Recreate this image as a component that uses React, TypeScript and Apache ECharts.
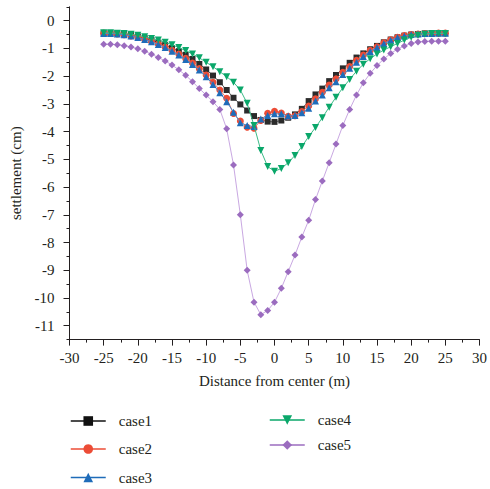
import React, { useEffect, useRef } from "react";
import * as echarts from "echarts";

const xValues = [
  -25, -24, -23, -22, -21, -20, -19, -18, -17, -16, -15, -14, -13, -12, -11, -10, -9, -8, -7, -6, -5, -4, -3, -2, -1,
  0, 1, 2, 3, 4, 5, 6, 7, 8, 9, 10, 11, 12, 13, 14, 15, 16, 17, 18, 19, 20, 21, 22, 23, 24, 25,
];

const case1 = [
  -0.45, -0.45, -0.46, -0.48, -0.52, -0.57, -0.63, -0.7, -0.79, -0.88, -0.99, -1.1, -1.23, -1.38, -1.56, -1.76, -1.98,
  -2.22, -2.5, -2.78, -3.02, -3.24, -3.44, -3.58, -3.64, -3.65, -3.6, -3.5, -3.38, -3.18, -2.9, -2.66, -2.45, -2.18,
  -1.96, -1.72, -1.52, -1.33, -1.18, -1.03, -0.91, -0.78, -0.68, -0.6, -0.54, -0.5, -0.48, -0.46, -0.46, -0.45, -0.45,
];

const case2 = [
  -0.45, -0.46, -0.48, -0.51, -0.55, -0.6, -0.67, -0.75, -0.84, -0.95, -1.07, -1.2, -1.36, -1.53, -1.73, -1.96, -2.22,
  -2.5, -2.8, -3.35, -3.62, -3.84, -3.88, -3.6, -3.34, -3.27, -3.33, -3.45, -3.43, -3.28, -3.08, -2.82, -2.58, -2.32,
  -2.1, -1.86, -1.65, -1.43, -1.24, -1.07, -0.94, -0.8, -0.69, -0.6, -0.54, -0.5, -0.48, -0.46, -0.46, -0.45, -0.45,
];

const case3 = [
  -0.46, -0.46, -0.48, -0.51, -0.55, -0.61, -0.68, -0.76, -0.86, -0.97, -1.1, -1.24, -1.4, -1.58, -1.78, -2.02, -2.3,
  -2.6, -2.92, -3.3, -3.68, -3.78, -3.82, -3.55, -3.42, -3.36, -3.36, -3.44, -3.42, -3.32, -3.16, -2.9, -2.68, -2.42,
  -2.2, -1.94, -1.72, -1.5, -1.29, -1.11, -0.97, -0.83, -0.71, -0.61, -0.55, -0.5, -0.48, -0.46, -0.46, -0.45, -0.45,
];

const case4 = [
  -0.44, -0.44, -0.45, -0.46, -0.49, -0.53, -0.58, -0.64, -0.7, -0.78, -0.87, -0.97, -1.08, -1.2, -1.34, -1.5, -1.66,
  -1.84, -2.02, -2.22, -2.5, -2.98, -3.78, -4.68, -5.26, -5.43, -5.33, -5.12, -4.86, -4.54, -4.18, -3.85, -3.5, -3.12,
  -2.76, -2.42, -2.12, -1.82, -1.57, -1.37, -1.2, -1.06, -0.94, -0.82, -0.7, -0.6, -0.53, -0.49, -0.46, -0.46, -0.46,
];

const case5 = [
  -0.85, -0.85, -0.87, -0.9, -0.95, -1.01, -1.1, -1.21, -1.33, -1.45, -1.6, -1.77, -1.97, -2.2, -2.45, -2.68, -2.92,
  -3.2, -3.9, -5.2, -7.0, -9.0, -10.15, -10.6, -10.45, -10.15, -9.65, -9.05, -8.45, -7.8, -7.2, -6.45, -5.78, -5.12,
  -4.45, -3.78, -3.2, -2.68, -2.24, -1.9, -1.62, -1.38, -1.18, -1.03, -0.91, -0.82, -0.77, -0.75, -0.74, -0.74, -0.74,
];

const seriesNames = ["case1", "case2", "case3", "case4", "case5"];
const seriesValues = [case1, case2, case3, case4, case5];
const markerColors = ["#2b2b2b", "#ec4c36", "#1f6cb9", "#0aa76a", "#9b6cbf"];
const lineColors = ["#555555", "#f07a68", "#4a8ccc", "#3dbb88", "#c9a8e2"];
const legendLineColors = ["#111111", "#ec4c36", "#1f6cb9", "#0aa76a", "#9b6cbf"];
const symbols = ["rect", "circle", "triangle", "triangle", "diamond"];
const symbolRotates = [0, 0, 0, 180, 0];
const symbolSizes = [6, 7, 7, 7, 7];

const xAxisMin = -30;
const xAxisMax = 30;
const xAxisStep = 5;
const yLabelMin = -11;
const yLabelMax = 0;

const FONT = "'Liberation Serif', 'Times New Roman', serif";
const INK = "#231f20";

const legendSpots = [
  { left: 70, cy: 421 },
  { left: 70, cy: 449 },
  { left: 70, cy: 477.5 },
  { left: 269, cy: 420 },
  { left: 269, cy: 445 },
];

export default function App() {
  const ref = useRef<HTMLDivElement>(null);

  useEffect(() => {
    if (!ref.current) return;
    const chart = echarts.init(ref.current, undefined, { renderer: "svg" });

    const series = seriesNames.map((name, i) => ({
      name,
      type: "line" as const,
      xAxisIndex: 0,
      yAxisIndex: 0,
      data: xValues.map((x, k) => [x, seriesValues[i][k]]),
      symbol: symbols[i],
      symbolRotate: symbolRotates[i],
      symbolSize: symbolSizes[i],
      showSymbol: true,
      lineStyle: { color: lineColors[i], width: 1 },
      itemStyle: { color: markerColors[i] },
      emphasis: { disabled: true },
      z: i === 4 ? 1 : 2 + i,
    }));

    const legends = seriesNames.map((name, i) => ({
      data: [name],
      left: legendSpots[i].left,
      top: legendSpots[i].cy - 8,
      padding: 0,
      itemWidth: 35,
      itemHeight: 12,
      selectedMode: false,
      lineStyle: { color: legendLineColors[i], width: 1.5 },
      itemStyle: { color: legendLineColors[i] },
      textStyle: {
        fontFamily: FONT,
        fontSize: 15,
        color: INK,
        lineHeight: 16,
        padding: [0, 0, 0, 8],
      },
    }));

    chart.setOption({
      animation: false,
      backgroundColor: "#ffffff",
      legend: legends,
      grid: [
        { left: 69.5, right: 7.5, top: 6.8, height: 332.8 },
        { left: 69.5, right: 7.5, top: 20.7, height: 305 },
      ],
      xAxis: [
        {
          gridIndex: 0,
          type: "value",
          min: xAxisMin,
          max: xAxisMax,
          interval: xAxisStep,
          name: "Distance from center (m)",
          nameLocation: "middle",
          nameGap: 34,
          nameTextStyle: { fontFamily: FONT, fontSize: 15, color: INK },
          axisLine: { show: true, onZero: false, lineStyle: { color: INK, width: 1 } },
          axisTick: { show: true, length: 6, inside: false, lineStyle: { color: INK } },
          minorTick: { show: true, splitNumber: 2, length: 3, lineStyle: { color: INK } },
          axisLabel: { fontFamily: FONT, fontSize: 15, color: INK, margin: 11 },
          splitLine: { show: false },
          minorSplitLine: { show: false },
        },
        {
          gridIndex: 1,
          type: "value",
          min: xAxisMin,
          max: xAxisMax,
          show: false,
          axisLine: { onZero: false },
        },
      ],
      yAxis: [
        {
          gridIndex: 0,
          type: "value",
          min: yLabelMin - 0.5,
          max: yLabelMax + 0.5,
          interval: 0.5,
          name: "settlement (cm)",
          nameLocation: "middle",
          nameGap: 46,
          nameTextStyle: { fontFamily: FONT, fontSize: 15, color: INK },
          axisLine: { show: true, onZero: false, lineStyle: { color: INK, width: 1 } },
          axisTick: { show: true, length: 3, inside: false, lineStyle: { color: INK } },
          axisLabel: { show: false },
          splitLine: { show: false },
        },
        {
          gridIndex: 1,
          type: "value",
          min: yLabelMin,
          max: yLabelMax,
          interval: 1,
          axisLine: { show: false, onZero: false },
          axisTick: { show: true, length: 6, inside: false, lineStyle: { color: INK } },
          axisLabel: { fontFamily: FONT, fontSize: 15, color: INK, margin: 15 },
          splitLine: { show: false },
        },
      ],
      series,
    });

    return () => chart.dispose();
  }, []);

  return (
    <div
      ref={ref}
      style={{ position: "absolute", left: 0, top: 0, width: 490, height: 489 }}
    />
  );
}
